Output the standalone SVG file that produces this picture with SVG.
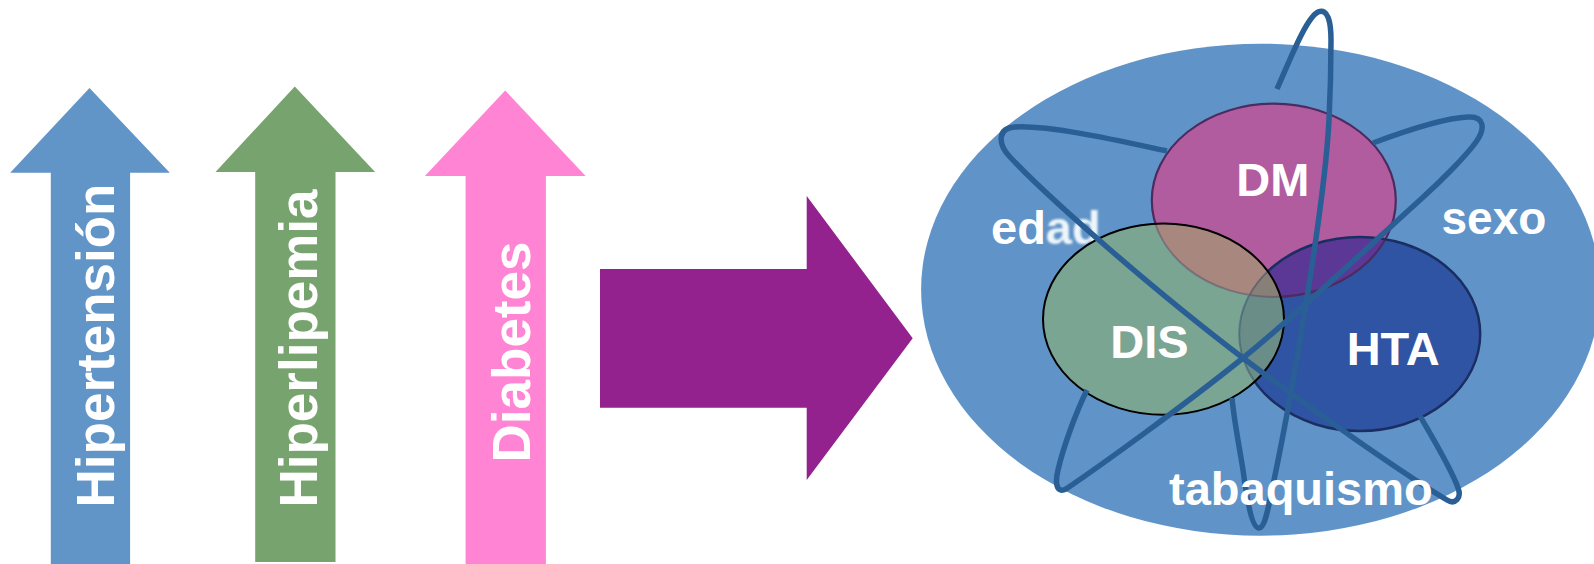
<svg xmlns="http://www.w3.org/2000/svg" width="1594" height="564" viewBox="0 0 1594 564">
<style>
  .lbl { font-family: "Liberation Sans", Arial, sans-serif; font-weight: bold; fill: #ffffff; }
  .vtxt { font-size: 53px; text-anchor: middle; }
  .ctxt { font-size: 47px; text-anchor: middle; }
  .orbit { fill: none; stroke: #2a5f96; stroke-width: 5.5; stroke-linecap: butt; stroke-linejoin: round; }
</style>
<defs>
  <clipPath id="cDM"><ellipse cx="1273.8" cy="200.3" rx="122" ry="96.6"/></clipPath>
  <clipPath id="cHTA"><ellipse cx="1359.7" cy="334" rx="120.5" ry="97"/></clipPath>
  <mask id="mNoDIS">
    <rect x="0" y="0" width="1594" height="564" fill="#fff"/>
    <ellipse cx="1163.5" cy="319.2" rx="120.5" ry="95.6" fill="#000"/>
  </mask>
  <clipPath id="cDIS"><ellipse cx="1163.5" cy="319.2" rx="120.5" ry="95.6"/></clipPath>
  <filter id="soft" x="-10%" y="-10%" width="120%" height="120%"><feGaussianBlur stdDeviation="1.1"/></filter>
</defs>

<g id="arrow-hipertension">
  <polygon points="89.5,88 169.8,172.8 130.1,172.8 130.1,564 50.8,564 50.8,172.8 10.2,172.8" fill="#6194c7"/>
  <text class="lbl vtxt" transform="translate(113.5,345.5) rotate(-90)">Hipertensión</text>
</g>
<g id="arrow-hiperlipemia">
  <polygon points="294.8,86.4 375.1,172 335.5,172 335.5,562 255.2,562 255.2,172 215.5,172" fill="#77a46e"/>
  <text class="lbl vtxt" transform="translate(317,348.5) rotate(-90)">Hiperlipemia</text>
</g>
<g id="arrow-diabetes">
  <polygon points="505.2,90.5 585.6,176 545.9,176 545.9,564 465.6,564 465.6,176 424.9,176" fill="#ff85d4"/>
  <text class="lbl vtxt" transform="translate(529.5,352) rotate(-90)">Diabetes</text>
</g>
<g id="arrow-right">
  <polygon points="600,269 806.7,269 806.7,196 912.7,338.3 806.7,480 806.7,407.7 600,407.7" fill="#93218e"/>
</g>

<g id="factors">
  <ellipse cx="1260.6" cy="289.7" rx="339.5" ry="246" fill="#6094c8"/>
  <text class="lbl" x="991" y="244" font-size="47">ed<tspan fill="#eef5fb" filter="url(#soft)">ad</tspan></text>
  <text class="lbl" x="1441.5" y="233.8" font-size="46">sexo</text>
</g>

<g id="circles">
  <g id="dm-fill"><ellipse cx="1273.8" cy="200.3" rx="122" ry="96.6" fill="#b15c9f"/></g>
  <g id="hta-fill"><ellipse cx="1359.7" cy="334" rx="120.5" ry="97" fill="#2f54a3"/></g>
  <g id="dis-fill"><ellipse cx="1163.5" cy="319.2" rx="120.5" ry="95.6" fill="#7ba593"/></g>
  <g clip-path="url(#cDM)"><ellipse cx="1359.7" cy="334" rx="120.5" ry="97" fill="#5c3896"/></g>
  <g clip-path="url(#cDM)"><ellipse cx="1163.5" cy="319.2" rx="120.5" ry="95.6" fill="#a8887e"/></g>
  <g clip-path="url(#cHTA)"><ellipse cx="1163.5" cy="319.2" rx="120.5" ry="95.6" fill="#6b8d88"/></g>
  <g clip-path="url(#cDM)"><g clip-path="url(#cHTA)"><ellipse cx="1163.5" cy="319.2" rx="120.5" ry="95.6" fill="#887f76"/></g></g>
  <g mask="url(#mNoDIS)">
    <ellipse cx="1273.8" cy="200.3" rx="122" ry="96.6" fill="none" stroke="#4d2b5f" stroke-width="2.2"/>
    <ellipse cx="1359.7" cy="334" rx="120.5" ry="97" fill="none" stroke="#1b2e62" stroke-width="2.5"/>
  </g>
  <g clip-path="url(#cDIS)" opacity="0.35">
    <ellipse cx="1273.8" cy="200.3" rx="122" ry="96.6" fill="none" stroke="#4d2b5f" stroke-width="2"/>
    <ellipse cx="1359.7" cy="334" rx="120.5" ry="97" fill="none" stroke="#1b2e62" stroke-width="2"/>
  </g>
  <ellipse cx="1163.5" cy="319.2" rx="120.5" ry="95.6" fill="none" stroke="#000" stroke-width="2"/>
  <g id="dm"><text class="lbl ctxt" x="1272.8" y="196" font-size="48">DM</text></g>
  <g id="dis"><text class="lbl ctxt" x="1149.5" y="357.8">DIS</text></g>
  <g id="hta"><text class="lbl ctxt" x="1393.2" y="365">HTA</text></g>
</g>

<g id="connectors">
  <path class="orbit" d="M 1277 89 C 1290 60, 1306 18, 1318 12 C 1328 8, 1331 22, 1331 40 C 1331 70, 1330 100, 1329 120 C 1325 200, 1295 380, 1272 490 C 1267 515, 1264 528, 1259 528 C 1252 528, 1247 500, 1243 470 C 1239 445, 1234 420, 1232 398"/>
  <path class="orbit" d="M 1167 151 C 1120 141, 1050 125, 1015 127 C 998 128, 997 143, 1010 157 C 1050 200, 1160 295, 1243 358 C 1320 416, 1410 478, 1447 500 C 1455 505, 1462 498, 1458 488 C 1452 470, 1432 437, 1420 416"/>
  <path class="orbit" d="M 1373 143 C 1405 131, 1445 118, 1468 117 C 1484 116, 1486 128, 1476 142 C 1466 156, 1440 182, 1420 200 C 1380 236, 1300 312, 1243 358 C 1186 404, 1100 466, 1066 489 C 1056 494, 1055 482, 1058 470 C 1063 448, 1076 412, 1087 390"/>
</g>

<g id="tabaquismo">
  <text class="lbl" x="1169" y="505" font-size="47">tabaquismo</text>
</g>
</svg>
